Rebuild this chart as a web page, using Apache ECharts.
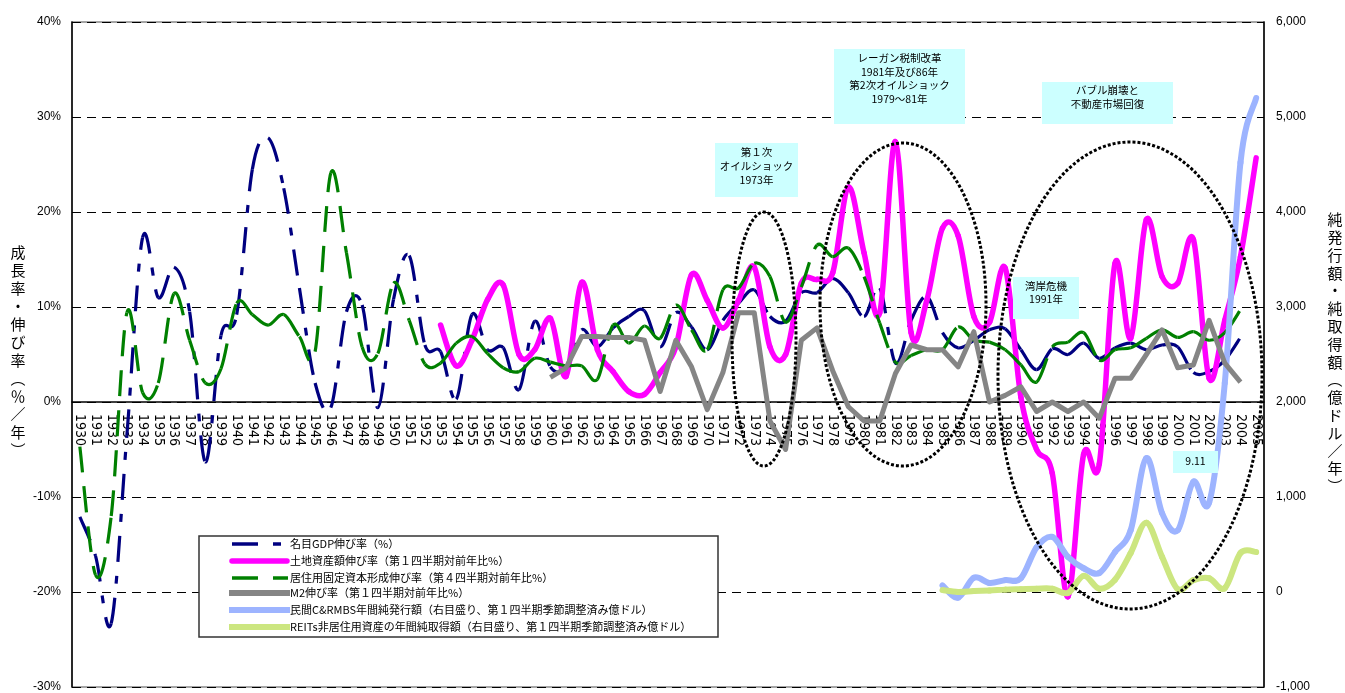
<!DOCTYPE html>
<html>
<head>
<meta charset="utf-8">
<script src="https://cdn.jsdelivr.net/npm/echarts@6/dist/echarts.min.js"></script>
<style>
  html, body { margin: 0; padding: 0; background: #fff; }
  #chart { width: 1345px; height: 693px; }
</style>
</head>
<body>
<div id="chart"></div>
<script>
// categories: 1930 .. 2005
var years = [];
for (var y = 1930; y <= 2005; y++) years.push(String(y));

// left axis (%) series
var gdp = [-12.1, -16.2, -23.3, -3.5, 17.3, 11.0, 14.2, 9.5, -6.3, 7.0,
  9.2, 24.5, 27.8, 22.5, 12.0, 2.0, -0.6, 9.5, 10.2, -0.6,
  10.8, 15.4, 6.0, 5.3, 0.3, 9.2, 5.5, 5.7, 1.3, 8.5,
  3.7, 3.7, 7.6, 5.8, 7.8, 9.0, 9.6, 5.8, 9.4, 7.9,
  5.5, 8.6, 10.4, 11.8, 9.0, 8.5, 11.5, 11.5, 13.0, 11.5,
  9.0, 12.0, 4.1, 8.6, 11.1, 7.3, 5.7, 6.5, 7.6, 7.7,
  5.5, 3.4, 5.6, 5.0, 6.2, 4.6, 5.7, 6.2, 5.5, 6.0,
  5.8, 3.1, 3.2, 4.4, 6.8, null];

var land = [null, null, null, null, null, null, null, null, null, null,
  null, null, null, null, null, null, null, null, null, null,
  null, null, null, 8.1, 3.8, 6.5, 10.8, 12.3, 5.0, 5.5,
  8.8, 2.7, 12.6, 5.5, 3.2, 1.1, 0.8, 3.1, 5.8, 13.4,
  10.7, 7.8, 10.7, 14.2, 5.8, 5.0, 12.5, 12.9, 13.6, 22.6,
  15.7, 9.4, 27.4, 7.3, 10.7, 18.3, 17.5, 9.0, 8.4, 14.1,
  0.5, -5.0, -7.5, -20.5, -5.5, -6.5, 14.6, 6.7, 19.2, 13.2,
  12.5, 17.1, 2.5, 8.6, 15.3, 25.7];

var resid = [-4.7, -18.2, -12.0, 9.4, 1.0, 2.0, 11.4, 6.5, 2.0, 3.5,
  10.4, 9.2, 8.1, 9.2, 6.9, 5.3, 24.1, 15.7, 5.8, 5.1,
  12.5, 8.6, 4.0, 4.1, 6.2, 6.9, 5.1, 3.6, 3.2, 4.6,
  4.2, 3.8, 3.8, 2.4, 8.1, 6.2, 8.0, 6.7, 10.2, 7.6,
  5.5, 11.8, 12.0, 14.6, 13.2, 8.4, 12.1, 16.5, 15.3, 16.2,
  13.2, 8.3, 4.2, 4.9, 5.5, 5.5, 7.9, 6.5, 6.3, 5.5,
  3.9, 2.1, 5.8, 6.3, 7.3, 4.4, 5.5, 5.7, 6.7, 7.6,
  6.8, 7.4, 6.5, 7.3, 9.7, null];

var m2 = [null, null, null, null, null, null, null, null, null, null,
  null, null, null, null, null, null, null, null, null, null,
  null, null, null, null, null, null, null, null, null, null,
  2.6, 3.6, 6.9, 6.9, 6.8, 6.8, 6.5, 1.1, 6.5, 3.7,
  -0.8, 3.1, 9.4, 9.4, -2.0, -5.0, 6.5, 7.8, 3.3, -0.5,
  -2.0, -2.0, 3.0, 6.0, 5.5, 5.5, 3.7, 7.4, 0.0, 0.7,
  1.6, -1.0, 0.0, -1.0, 0.0, -1.7, 2.5, 2.5, 5.0, 7.6,
  3.6, 3.9, 8.6, 4.1, 2.1, null];

// right axis (億ドル) series, 1985 .. 2005
var cmbs = [70, -60, 150, 95, 125, 145, 470, 580, 370, 250,
  200, 420, 650, 1410, 830, 650, 1160, 940, 2200, 4520, 5200];
var reits = [20, 0, 10, 15, 25, 30, 35, 35, -10, 170,
  35, 130, 410, 730, 370, 30, 125, 145, 40, 410, 420];

function fromYear(start, vals) {
  return years.map(function (yr) {
    var k = Number(yr) - start;
    return (k >= 0 && k < vals.length) ? vals[k] : null;
  });
}
var cmbsFull = fromYear(1985, cmbs);
var reitsFull = fromYear(1985, reits);

var names = [
  '名目GDP伸び率（%）',
  '土地資産額伸び率（第１四半期対前年比%）',
  '居住用固定資本形成伸び率（第４四半期対前年比%）',
  'M2伸び率（第１四半期対前年比%）',
  '民間C&RMBS年間純発行額（右目盛り、第１四半期季節調整済み億ドル）',
  'REITs非居住用資産の年間純取得額（右目盛り、第１四半期季節調整済み億ドル）'
];
var colors = ['#000080', '#ff00ff', '#008000', '#858585', '#9db4ff', '#cce680'];

var CJK = '"Noto Sans CJK JP", sans-serif';
var NUM = '"Liberation Sans", Arial, sans-serif';
var NARROW = '"Liberation Sans Narrow", "DejaVu Sans Condensed", "Liberation Sans", sans-serif';

// Excel style smoothed line: one bezier per segment, dash restarts each segment
function smoothSeries(idx, vals, yAxisIndex, width, dash, cap) {
  var data = [];
  vals.forEach(function (v, i) {
    if (v != null && vals[i + 1] != null) data.push([i, v]);
  });
  return {
    name: names[idx],
    type: 'custom',
    yAxisIndex: yAxisIndex,
    itemStyle: { color: colors[idx] },
    encode: { x: 0, y: 1 },
    data: data,
    renderItem: function (params, api) {
      var i = api.value(0);
      function p(k) {
        if (k < 0 || k >= vals.length || vals[k] == null) return null;
        return api.coord([k, vals[k]]);
      }
      var p1 = p(i), p2 = p(i + 1);
      var p0 = p(i - 1) || p1, p3 = p(i + 2) || p2;
      return {
        type: 'bezierCurve',
        shape: {
          x1: p1[0], y1: p1[1], x2: p2[0], y2: p2[1],
          cpx1: p1[0] + (p2[0] - p0[0]) / 6, cpy1: p1[1] + (p2[1] - p0[1]) / 6,
          cpx2: p2[0] - (p3[0] - p1[0]) / 6, cpy2: p2[1] - (p3[1] - p1[1]) / 6
        },
        style: {
          fill: 'none', stroke: colors[idx], lineWidth: width,
          lineDash: dash, lineCap: cap || 'butt', lineJoin: 'round'
        }
      };
    }
  };
}

// annotation boxes
var notes = [
  { x: 715, y: 143, w: 83, h: 54, cy: 166, lh: 14, text: '第１次\nオイルショック\n1973年' },
  { x: 834, y: 49, w: 131, h: 75, cy: 78.5, lh: 13.7, text: 'レーガン税制改革\n1981年及び86年\n第2次オイルショック\n1979～81年' },
  { x: 1042, y: 82, w: 131, h: 42, cy: 97, lh: 14, text: 'バブル崩壊と\n不動産市場回復' },
  { x: 1013, y: 277, w: 66, h: 42, cy: 292.5, lh: 13, text: '湾岸危機\n1991年' },
  { x: 1173, y: 451, w: 45, h: 22, cy: 461, lh: 13, text: '9.11' }
];
var rings = [
  { cx: 764, cy: 339, rx: 32, ry: 127 },
  { cx: 903, cy: 304.5, rx: 83, ry: 161.5 },
  { cx: 1130, cy: 375.5, rx: 132, ry: 233.5 }
];

var graphic = [];
notes.forEach(function (n) {
  graphic.push({ type: 'rect', z: 100, shape: { x: n.x, y: n.y, width: n.w, height: n.h },
    style: { fill: '#ccffff' } });
  graphic.push({ type: 'text', z: 101, x: n.x + n.w / 2, y: n.cy,
    style: { text: n.text, font: '10.5px ' + CJK, fill: '#000', align: 'center',
      verticalAlign: 'middle', lineHeight: n.lh } });
});
rings.forEach(function (r) {
  graphic.push({ type: 'ellipse', z: 90, shape: r,
    style: { fill: 'none', stroke: '#000', lineWidth: 3, lineDash: [3, 2] } });
});

// axis titles (vertical)
graphic.push({ type: 'text', z: 50, x: 18, y: 351,
  style: { text: '成長率・伸び率︵％／年︶'.split('').join('\n'), font: '15px ' + CJK,
    fill: '#000', align: 'center', verticalAlign: 'middle', lineHeight: 18 } });
graphic.push({ type: 'text', z: 50, x: 1335, y: 353,
  style: { text: '純発行額・純取得額︵億ドル／年︶'.split('').join('\n'), font: '15px ' + CJK,
    fill: '#000', align: 'center', verticalAlign: 'middle', lineHeight: 17.8 } });

// legend box drawn like the original
var legendRows = [544, 561, 578, 593, 610, 627];
graphic.push({ type: 'rect', z: 110, shape: { x: 199, y: 536, width: 519, height: 101 },
  style: { fill: '#fff', stroke: '#333', lineWidth: 1.5 } });
function segLine(x1, x2, yy, c, w, cap) {
  graphic.push({ type: 'line', z: 111, shape: { x1: x1, y1: yy, x2: x2, y2: yy },
    style: { stroke: c, lineWidth: w, lineCap: cap || 'butt' } });
}
segLine(232, 258, legendRows[0], colors[0], 3.5);
segLine(273, 281, legendRows[0], colors[0], 3.5);
segLine(232, 287, legendRows[1], colors[1], 5.5, 'round');
segLine(232, 258, legendRows[2], colors[2], 3.5);
segLine(273, 288, legendRows[2], colors[2], 3.5);
segLine(229, 290, legendRows[3], colors[3], 6);
segLine(229, 290, legendRows[4], colors[4], 6);
segLine(229, 290, legendRows[5], colors[5], 6);
names.forEach(function (nm, i) {
  graphic.push({ type: 'text', z: 111, x: 290, y: legendRows[i],
    style: { text: nm, font: '11px ' + CJK, fill: '#000', verticalAlign: 'middle' } });
});

var chart = echarts.init(document.getElementById('chart'));
chart.setOption({
  animation: false,
  backgroundColor: '#fff',
  grid: { left: 72, right: 81, top: 22, bottom: 6, show: true,
    outerBoundsMode: 'none', containLabel: false,
    borderColor: '#888', borderWidth: 1.5 },
  xAxis: {
    type: 'category',
    data: years,
    position: 'bottom',
    offset: -285, // the category axis sits on the 0% line
    axisLine: { onZero: false, lineStyle: { color: '#000', width: 1.5 } },
    axisTick: { inside: true, length: 4, lineStyle: { color: '#000' } },
    axisLabel: { interval: 0, rotate: -90, margin: 12, fontSize: 14, fontFamily: NARROW, color: '#000' },
    splitLine: { show: false }
  },
  yAxis: [
    {
      type: 'value', min: -30, max: 40, interval: 10,
      axisLine: { show: true, lineStyle: { color: '#000', width: 1.5 } },
      axisTick: { show: false },
      axisLabel: { formatter: '{value}%', fontSize: 12, fontFamily: NUM, color: '#000', margin: 11 },
      splitLine: { show: true, lineStyle: { color: '#000', width: 1, type: [9, 6] } }
    },
    {
      type: 'value', min: -1000, max: 6000, interval: 1000,
      axisLine: { show: true, lineStyle: { color: '#000', width: 1.5 } },
      axisTick: { show: false },
      axisLabel: { fontSize: 12, fontFamily: NUM, color: '#000', margin: 12 },
      splitLine: { show: false }
    }
  ],
  series: [
    smoothSeries(0, gdp, 0, 3.2, [26, 14, 8, 14]),
    smoothSeries(1, land, 0, 5.5, null, 'round'),
    smoothSeries(2, resid, 0, 3.2, [26, 14]),
    {
      name: names[3], type: 'line', yAxisIndex: 0, data: m2,
      symbol: 'none', smooth: false,
      itemStyle: { color: colors[3] },
      lineStyle: { color: colors[3], width: 5, join: 'round' }
    },
    smoothSeries(4, cmbsFull, 1, 6, null, 'round'),
    smoothSeries(5, reitsFull, 1, 6, null, 'round')
  ],
  graphic: graphic
});
</script>
</body>
</html>
